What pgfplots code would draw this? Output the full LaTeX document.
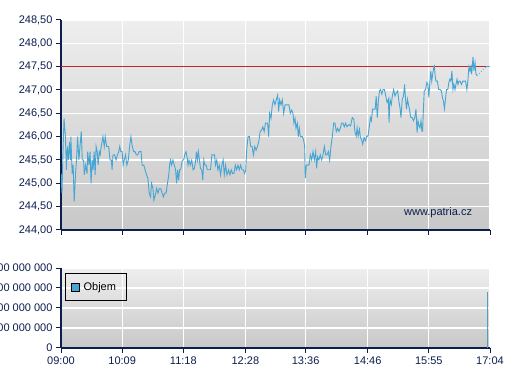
\documentclass[border=0pt]{standalone}
\usepackage{fontspec}
\setmainfont{Liberation Sans}
\usepackage{pgfplots}
\pgfplotsset{compat=1.18}
\definecolor{navy}{RGB}{12,30,78}
\definecolor{serblue}{RGB}{70,165,210}
\definecolor{reflred}{RGB}{190,40,40}
\definecolor{bgtop}{RGB}{238,238,238}
\definecolor{bgbot}{RGB}{200,200,200}
\pgfplotsset{
  common/.style={
    scale only axis,
    width=429bp,
    xmin=0, xmax=484,
    axis x line*=bottom, axis y line*=left,
    axis line style={navy, line width=1.3bp},
    tick align=outside,
    major tick length=5bp,
    tick style={navy, line width=1bp},
    grid=major,
    major grid style={white, line width=1.3bp},
    axis background/.style={top color=bgtop, bottom color=bgbot},
    tick label style={font=\fontsize{11bp}{13bp}\selectfont, text=navy},
    xtick={0,69,138,208,276,346,415,484},
    /pgf/number format/assume math mode=true,
    clip=true,
  }
}
\begin{document}
\begin{tikzpicture}
\path[use as bounding box] (0,0) rectangle (507bp,380bp);
% price axis
\begin{axis}[common,
  at={(61bp,150bp)}, anchor=south west,
  height=210bp,
  ymin=244, ymax=248.5,
  ytick={244,244.5,245,245.5,246,246.5,247,247.5,248,248.5},
  yticklabels={{244,00},{244,50},{245,00},{245,50},{246,00},{246,50},{247,00},{247,50},{248,00},{248,50}},
  xticklabels={},
]
\addplot[reflred, line width=0.8bp, forget plot] coordinates {(0,247.5) (484,247.5)};
\addplot[serblue, line width=0.9bp] coordinates {
(0,245.21)(1.1,244.79)(2.3,245.71)(3.4,246.39)(5.0,246.00)(6.1,245.29)(7.2,245.79)(8.4,245.50)(9.5,245.89)(10.7,245.50)(11.1,246.00)(12.6,245.21)(13.7,245.39)(14.9,244.61)(16.4,245.21)(17.5,245.50)(18.7,246.00)(20.2,245.50)(21.7,245.86)(22.9,246.11)(24.0,245.50)(25.5,245.50)(26.3,245.18)(27.8,245.39)(29.4,245.21)(30.1,245.68)(31.6,245.39)(32.8,245.68)(33.9,245.00)(35.1,245.50)(36.2,245.29)(37.4,245.68)(38.5,245.18)(39.6,245.79)(40.8,245.68)(41.9,245.39)(43.1,245.68)(44.2,245.61)(45.4,245.79)(47.3,246.00)(48.8,245.79)(49.9,246.00)(51.5,245.79)(53.8,245.79)(55.3,245.50)(56.8,245.50)(57.6,245.29)(58.7,245.61)(60.6,245.61)(62.1,245.50)(63.7,245.61)(65.2,245.68)(66.3,245.79)(67.5,245.68)(69.0,245.68)(70.1,245.39)(71.3,245.50)(72.8,245.61)(74.3,245.39)(75.9,245.50)(77.4,245.79)(78.9,246.00)(80.4,245.79)(82.0,245.68)(83.5,245.68)(85.0,245.61)(86.5,245.61)(88.1,245.68)(90.4,245.68)(91.5,245.39)(93.4,245.39)(94.9,245.29)(96.5,245.18)(98.0,245.11)(99.5,244.79)(101.0,244.71)(102.2,245.00)(103.7,244.89)(104.8,244.64)(106.4,244.75)(107.9,244.89)(109.4,244.79)(110.9,244.89)(112.5,244.89)(114.0,244.79)(115.5,244.71)(117.0,244.79)(118.6,244.79)(120.1,245.00)(121.6,245.18)
(122.5,245.39)(123.6,245.50)(124.8,245.39)(126.3,245.50)(127.8,245.39)(129.3,245.29)(130.4,245.00)(131.6,245.29)(132.7,245.07)(133.8,245.29)(135.0,245.29)(136.9,245.50)(138.4,245.50)(139.5,245.61)(141.0,245.68)(142.2,245.57)(143.3,245.39)(144.4,245.50)(145.9,245.39)(147.5,245.50)(149.0,245.29)(150.5,245.32)(152.0,245.50)(152.8,245.68)(153.9,245.50)(155.0,245.68)(156.2,245.50)(157.3,245.32)(158.8,245.29)(159.9,245.07)(161.1,245.50)(162.2,245.39)(163.7,245.39)(165.2,245.29)(167.1,245.29)(168.7,245.29)(170.2,245.61)(171.7,245.61)(173.2,245.61)(174.3,245.39)(175.8,245.50)(177.0,245.29)(178.5,245.39)(180.0,245.18)(181.5,245.39)(183.0,245.50)(184.2,245.18)(185.7,245.39)(187.2,245.18)(189.1,245.29)(190.6,245.18)(192.1,245.29)(193.6,245.21)(195.1,245.21)(196.7,245.39)(198.2,245.29)(199.7,245.39)(201.2,245.29)(202.7,245.39)(204.2,245.29)(205.7,245.29)(207.2,245.21)(208.4,245.29)(209.5,245.71)(211.0,246.00)(212.5,246.00)(214.1,245.79)(215.6,245.79)(217.1,245.61)(218.6,245.79)(220.1,245.71)(221.6,245.79)(223.1,245.89)(224.7,246.11)(226.2,246.14)(227.7,246.21)(229.2,246.11)(230.7,246.29)
(231.6,246.29)(233.1,246.29)(234.3,246.00)(235.4,246.50)(236.9,246.39)(238.4,246.68)(239.9,246.79)(241.4,246.68)(242.9,246.79)(244.4,246.89)(245.5,246.54)(246.7,246.79)(248.2,246.68)(249.7,246.79)(251.2,246.50)(252.7,246.68)(254.2,246.68)(255.7,246.68)(257.2,246.68)(258.7,246.50)(260.2,246.57)(261.7,246.50)(262.8,246.29)(264.0,246.39)(265.1,246.18)(266.6,246.29)(267.7,246.00)(268.9,246.18)(270.0,246.00)(271.1,246.00)(272.2,246.00)(273.7,245.93)(274.9,245.79)(275.6,245.11)(276.8,245.39)(278.3,245.39)(279.8,245.39)(281.3,245.61)(282.8,245.50)(284.3,245.68)(285.8,245.50)(287.3,245.68)(288.4,245.32)(289.5,245.57)(291.0,245.50)(292.5,245.61)(294.0,245.50)(295.6,245.61)(297.1,245.79)(298.6,245.61)(300.1,245.61)(301.6,245.68)(303.1,245.50)(304.6,245.79)(306.1,246.00)(307.6,246.29)(309.1,246.29)(310.6,246.11)(312.1,246.18)(313.6,246.11)(315.1,246.18)(316.6,246.29)(318.1,246.29)(319.6,246.21)(321.1,246.29)(322.6,246.21)
(324.9,246.26)(326.7,246.23)(328.6,246.41)(330.4,246.37)(331.5,246.12)(333.0,246.01)(334.1,246.19)(335.2,246.01)(336.7,246.16)(337.8,245.98)(339.0,245.94)(340.4,245.84)(341.9,245.98)(343.4,245.91)(344.9,246.01)(346.4,246.01)(347.9,246.23)(349.0,246.41)(350.1,246.34)(351.6,246.59)(353.0,246.59)(354.5,246.59)(355.6,246.87)(356.8,246.41)(358.2,246.80)(359.4,246.98)(360.5,247.01)(362.0,246.91)(363.4,247.01)(364.9,247.01)(366.4,246.87)(367.9,246.73)(369.4,246.80)(370.1,246.30)(371.2,246.80)(372.7,246.69)(373.8,246.87)(375.3,247.01)(376.8,246.87)(378.3,246.94)(379.8,246.98)(381.2,246.76)(382.7,246.59)(383.5,246.41)(385.0,246.80)(386.4,246.87)(387.6,247.12)(388.7,246.80)(389.8,246.59)(390.9,246.80)(392.0,246.69)(393.1,246.59)(394.6,246.41)(396.1,246.41)(397.6,246.34)(399.1,246.41)(400.5,246.59)(401.7,246.09)(402.8,246.34)(403.9,246.23)(405.0,246.19)(406.2,246.34)(407.2,246.12)(408.0,246.12)(408.7,246.51)(409.8,246.98)(411.3,247.01)(412.8,247.16)(413.9,247.12)(415.0,246.84)(416.1,247.16)(417.2,247.41)(418.3,247.19)(419.5,247.37)(420.6,247.48)(421.3,247.51)(422.1,247.30)
(423.0,247.19)(424.6,247.19)(426.1,247.01)(427.6,247.01)(429.2,246.98)(430.3,246.84)(431.5,246.76)(432.6,246.60)(433.8,246.80)(434.9,247.01)(436.4,247.01)(437.6,247.16)(438.7,247.23)(439.9,247.19)(441.0,247.41)(442.2,247.01)(443.3,247.12)(444.5,247.01)(445.6,247.12)(446.8,247.23)(447.9,247.12)(449.1,247.19)(450.2,247.19)(451.8,247.12)(453.3,247.19)(454.8,247.19)(456.4,247.19)(457.9,247.01)(459.0,247.19)(460.2,247.50)(461.4,247.41)(462.5,247.50)(463.3,247.34)(464.0,247.50)(464.8,247.71)(465.9,247.41)(467.1,247.59)(468.2,247.34)(469.4,247.31)
};
\addplot[serblue, line width=0.8bp, dotted] coordinates {(469.4,247.31)(479.4,247.50)};
\addplot[serblue, line width=0.9bp] coordinates {(479.4,247.50)(484,247.50)};
\node[font=\fontsize{11bp}{13bp}\selectfont, text=navy] at (rel axis cs:0.879,0.081) {www.patria.cz};
\end{axis}
% volume axis
\begin{axis}[common,
  at={(61bp,32bp)}, anchor=south west,
  height=80bp,
  ymin=0, ymax=800000000,
  ytick={0,200000000,400000000,600000000,800000000},
  yticklabels={0,{200 000 000},{400 000 000},{600 000 000},{800 000 000}},
  scaled y ticks=false,
  xticklabels={09:00,10:09,11:18,12:28,13:36,14:46,15:55,17:04},
  legend style={at={(0.0093,0.9375)}, anchor=north west, draw=black, line width=0.8bp, fill=none,
    font=\fontsize{11bp}{13bp}\selectfont, inner xsep=6bp, inner ysep=7bp,
    nodes={inner xsep=4bp, inner ysep=2bp}},
  legend cell align=left,
]
\addplot[ycomb, serblue!80!gray, line width=1.2bp,
  legend image code/.code={\draw[fill=serblue, draw=black, line width=0.7bp] (0bp,-3.8bp) rectangle (7.5bp,3.8bp);}]
  coordinates {(481.5,560000000)};
\addlegendentry{Objem}
\end{axis}
\end{tikzpicture}
\end{document}
